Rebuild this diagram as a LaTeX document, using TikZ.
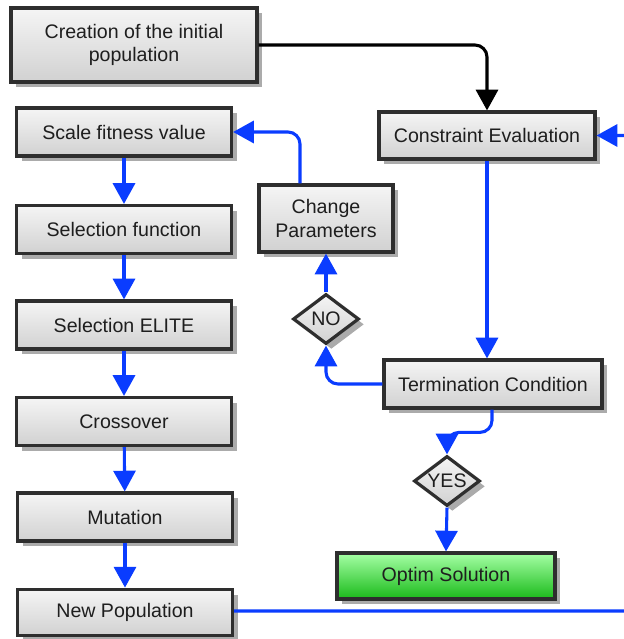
\documentclass[tikz,border=0pt]{standalone}
\usepackage{fontspec}
\setmainfont{Liberation Sans}
\usetikzlibrary{shapes.geometric,shadows,arrows.meta,calc}
\definecolor{flowblue}{HTML}{0A3CFF}
\definecolor{boxline}{HTML}{2E2E2E}
\definecolor{txt}{HTML}{1E1E1E}
\definecolor{shad}{HTML}{ABABAB}
\tikzset{
  base/.style={draw=boxline, line width=2.4pt, text=txt, align=center,
    font=\fontsize{14.7pt}{17.5pt}\selectfont, inner sep=0pt,
    drop shadow={shadow xshift=4pt, shadow yshift=-4pt, fill=shad, opacity=1}},
  procbox/.style={base, rectangle, top color=white!96!black, bottom color=black!18},
  greenbox/.style={base, rectangle, top color=green!35!white, bottom color=green!70!black!90},
  decision/.style={base, diamond, aspect=1.3, top color=white!96!black, bottom color=black!18,
    minimum width=49.5pt, minimum height=37.5pt},
  blueflow/.style={draw=flowblue, line width=2.3pt, rounded corners=9pt,
    -{Triangle[width=16.5pt,length=15.5pt]}},
  blackflow/.style={draw=black, line width=2.3pt, rounded corners=9pt,
    -{Triangle[width=16.5pt,length=15.5pt]}},
}
\begin{document}
\begin{tikzpicture}[x=0.75pt,y=-0.75pt]
\useasboundingbox[fill=white] (0,0) rectangle (624,639);
% left column
\node[procbox, minimum width=184.5pt, minimum height=55.5pt] (init) at (134,45) {Creation of the initial\\population};
\node[procbox, minimum width=161.25pt, minimum height=36pt] (scale) at (124,132) {Scale fitness value};
\node[procbox, minimum width=161.25pt, minimum height=36pt] (sel) at (124,229.5) {Selection function};
\node[procbox, minimum width=161.25pt, minimum height=36pt] (elite) at (124,325) {Selection ELITE};
\node[procbox, minimum width=161.25pt, minimum height=36pt] (cross) at (124,421.5) {Crossover};
\node[procbox, minimum width=161.25pt, minimum height=36pt] (mut) at (125,517) {Mutation};
\node[procbox, minimum width=161.25pt, minimum height=35pt] (newpop) at (125,612.5) {New Population};
% right part
\node[procbox, minimum width=162pt, minimum height=35.25pt] (ce) at (487,135.5) {Constraint Evaluation};
\node[procbox, minimum width=100.5pt, minimum height=50.25pt] (cp) at (326,218.5) {Change\\Parameters};
\node[decision] (no) at (326,319) {NO};
\node[procbox, minimum width=163.5pt, minimum height=36pt] (tc) at (493,384) {Termination Condition};
\node[decision] (yes) at (447,481) {YES};
\node[greenbox, minimum width=163.5pt, minimum height=34.5pt] (opt) at (446,576) {Optim Solution};
% connectors
\draw[blackflow] (init.east) -| (ce.north -| 487,0);
\draw[blueflow] (ce.south -| 487,0) -- (tc.north -| 487,0);
\draw[blueflow] (tc.west) -| (no.south);
\draw[blueflow] (no.north) -- (cp.south);
\draw[blueflow] (cp.north -| 300,0) |- (scale.east);
\draw[blueflow] (scale) -- (sel);
\draw[blueflow] (sel) -- (elite);
\draw[blueflow] (elite) -- (cross);
\draw[blueflow] (cross) -- (mut);
\draw[blueflow] (mut) -- (newpop);
\coordinate (c1) at (492,431);
\draw[blueflow] (tc.south -| c1) |- ($(yes.north)+(0,-22)$) -- (yes.north);
\draw[blueflow] (yes.south) -- (opt.north);
\coordinate (offr) at (660,611);
\draw[blueflow] (newpop.east |- offr) -- (offr) |- (ce.east);
\end{tikzpicture}
\end{document}
